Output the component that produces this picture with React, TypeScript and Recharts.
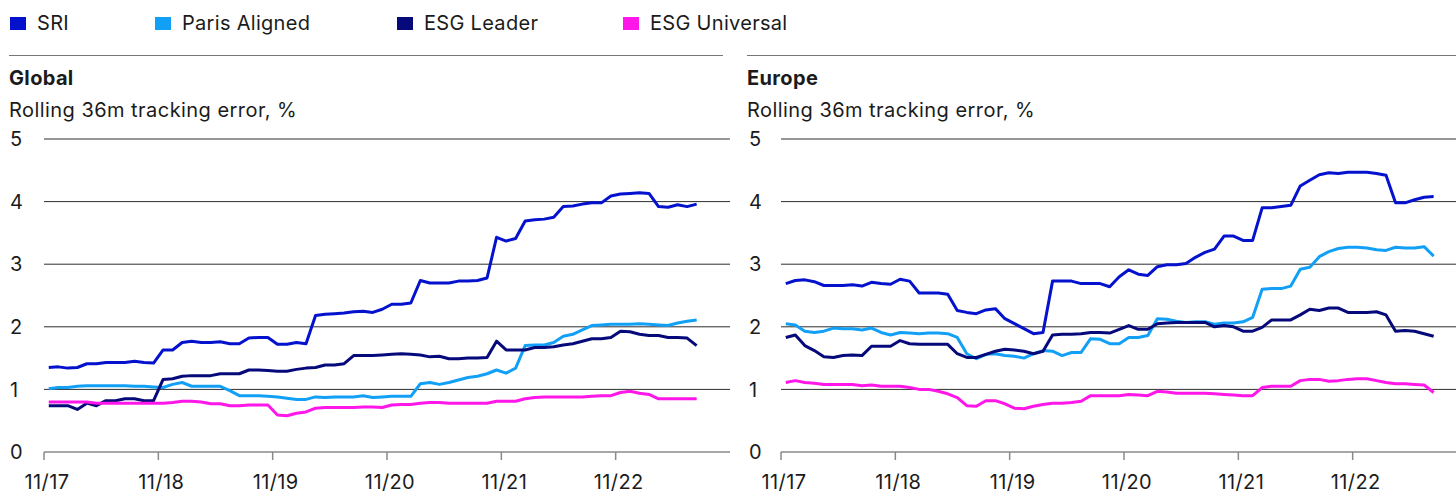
import React from 'react';
import { LineChart, Line, XAxis, YAxis, CartesianGrid } from 'recharts';

const tickLabels = ['11/17', '11/18', '11/19', '11/20', '11/21', '11/22'];
const tickMonths = [0, 12, 24, 36, 48, 60];
const yTicks = [0, 1, 2, 3, 4, 5];

const seriesNames = ['SRI', 'Paris Aligned', 'ESG Leader', 'ESG Universal'];
const seriesKeys = ['sri', 'paris', 'leader', 'universal'];
const seriesColors = ['#0412CE', '#12A0F7', '#06097A', '#FF16E8'];

const globalSRI = [
  1.35, 1.36, 1.34, 1.35, 1.41, 1.41, 1.43, 1.43, 1.43, 1.45, 1.43, 1.42,
  1.63, 1.63, 1.75, 1.77, 1.75, 1.75, 1.76, 1.73, 1.73, 1.82, 1.83, 1.83,
  1.72, 1.72, 1.75, 1.73, 2.18, 2.2, 2.21, 2.22, 2.24, 2.25, 2.23, 2.28,
  2.36, 2.36, 2.38, 2.74, 2.7, 2.7, 2.7, 2.73, 2.73, 2.74, 2.78, 3.43,
  3.37, 3.41, 3.69, 3.71, 3.72, 3.75, 3.92, 3.93, 3.96, 3.98, 3.98, 4.09,
  4.12, 4.13, 4.14, 4.13, 3.92, 3.91, 3.95, 3.92, 3.96,
];
const globalParis = [
  1.01, 1.03, 1.03, 1.05, 1.06, 1.06, 1.06, 1.06, 1.06, 1.05, 1.05, 1.04,
  1.03, 1.08, 1.11, 1.05, 1.05, 1.05, 1.05, 0.98, 0.9, 0.9, 0.9, 0.89,
  0.88, 0.86, 0.84, 0.84, 0.88, 0.87, 0.88, 0.88, 0.88, 0.9, 0.87, 0.88,
  0.89, 0.89, 0.89, 1.09, 1.11, 1.08, 1.11, 1.15, 1.19, 1.21, 1.25, 1.31,
  1.26, 1.34, 1.7, 1.71, 1.71, 1.75, 1.85, 1.88, 1.95, 2.02, 2.03, 2.04,
  2.04, 2.04, 2.05, 2.04, 2.03, 2.02, 2.06, 2.09, 2.11,
];
const globalLeader = [
  0.74, 0.74, 0.74, 0.68, 0.78, 0.74, 0.82, 0.82, 0.85, 0.85, 0.82, 0.82,
  1.16, 1.17, 1.21, 1.22, 1.22, 1.22, 1.25, 1.25, 1.25, 1.31, 1.31, 1.3,
  1.29, 1.29, 1.32, 1.34, 1.35, 1.39, 1.39, 1.41, 1.54, 1.54, 1.54, 1.55,
  1.56, 1.57, 1.56, 1.55, 1.52, 1.53, 1.49, 1.49, 1.5, 1.5, 1.51, 1.77,
  1.63, 1.63, 1.63, 1.67, 1.67, 1.68, 1.71, 1.73, 1.77, 1.81, 1.81, 1.83,
  1.93, 1.92, 1.88, 1.86, 1.86, 1.83, 1.83, 1.82, 1.7,
];
const globalUniversal = [
  0.8, 0.8, 0.8, 0.8, 0.8, 0.78, 0.78, 0.78, 0.78, 0.78, 0.78, 0.78,
  0.78, 0.79, 0.81, 0.81, 0.8, 0.77, 0.77, 0.74, 0.74, 0.75, 0.75, 0.75,
  0.59, 0.58, 0.62, 0.64, 0.7, 0.71, 0.71, 0.71, 0.71, 0.72, 0.72, 0.71,
  0.75, 0.76, 0.76, 0.78, 0.79, 0.79, 0.78, 0.78, 0.78, 0.78, 0.78, 0.81,
  0.81, 0.81, 0.85, 0.87, 0.88, 0.88, 0.88, 0.88, 0.88, 0.89, 0.9, 0.9,
  0.95, 0.97, 0.94, 0.92, 0.85, 0.85, 0.85, 0.85, 0.85,
];

const europeSRI = [
  2.69, 2.74, 2.75, 2.72, 2.66, 2.66, 2.66, 2.67, 2.65, 2.71, 2.69, 2.68,
  2.76, 2.73, 2.54, 2.54, 2.54, 2.52, 2.26, 2.23, 2.21, 2.27, 2.29, 2.13,
  2.05, 1.97, 1.89, 1.91, 2.73, 2.73, 2.73, 2.69, 2.69, 2.69, 2.64, 2.8,
  2.91, 2.84, 2.82, 2.96, 2.99, 2.99, 3.01, 3.11, 3.19, 3.24, 3.45, 3.45,
  3.38, 3.38, 3.9, 3.9, 3.92, 3.94, 4.25, 4.34, 4.43, 4.46, 4.45, 4.47,
  4.47, 4.47, 4.45, 4.42, 3.98, 3.98, 4.03, 4.07, 4.08,
];
const europeParis = [
  2.05, 2.03, 1.93, 1.91, 1.93, 1.98, 1.97, 1.97, 1.95, 1.98, 1.91, 1.87,
  1.91, 1.9, 1.89, 1.9, 1.9, 1.89, 1.83, 1.57, 1.49, 1.56, 1.57, 1.54,
  1.53, 1.5, 1.57, 1.62, 1.61, 1.54, 1.59, 1.59, 1.81, 1.8, 1.73, 1.73,
  1.83, 1.83, 1.86, 2.13, 2.12, 2.09, 2.07, 2.08, 2.08, 2.04, 2.06, 2.06,
  2.08, 2.15, 2.6, 2.61, 2.61, 2.65, 2.92, 2.95, 3.12, 3.2, 3.25, 3.27,
  3.27, 3.26, 3.23, 3.22, 3.27, 3.26, 3.26, 3.28, 3.13,
];
const europeLeader = [
  1.83, 1.87, 1.7, 1.62, 1.52, 1.51, 1.54, 1.55, 1.54, 1.69, 1.69, 1.69,
  1.78, 1.73, 1.72, 1.72, 1.72, 1.72, 1.57, 1.51, 1.51, 1.56, 1.61, 1.64,
  1.63, 1.61, 1.57, 1.61, 1.87, 1.88, 1.88, 1.89, 1.91, 1.91, 1.9, 1.96,
  2.02, 1.96, 1.96, 2.05, 2.06, 2.07, 2.07, 2.07, 2.07, 2.0, 2.02, 2.0,
  1.93, 1.93, 1.99, 2.11, 2.11, 2.11, 2.19, 2.28, 2.26, 2.3, 2.3, 2.23,
  2.23, 2.23, 2.24, 2.19, 1.93, 1.94, 1.93, 1.89, 1.85,
];
const europeUniversal = [
  1.11, 1.14, 1.11, 1.1, 1.08, 1.08, 1.08, 1.08, 1.06, 1.07, 1.05, 1.05,
  1.05, 1.03, 1.0, 1.0, 0.97, 0.93, 0.87, 0.74, 0.73, 0.82, 0.82, 0.77,
  0.7, 0.69, 0.73, 0.76, 0.78, 0.78, 0.79, 0.81, 0.9, 0.9, 0.9, 0.9,
  0.92, 0.91, 0.9, 0.97, 0.96, 0.94, 0.94, 0.94, 0.94, 0.93, 0.92, 0.91,
  0.9, 0.9, 1.03, 1.05, 1.05, 1.05, 1.14, 1.16, 1.16, 1.13, 1.14, 1.16,
  1.17, 1.17, 1.14, 1.11, 1.09, 1.09, 1.08, 1.07, 0.95,
];

const FONT = 'Inter, "Noto Sans", sans-serif';
const TEXT = '#1b1b1b';

function buildTable(sri: number[], paris: number[], leader: number[], universal: number[]) {
  return sri.map((v, i) => ({
    m: i + 0.5,
    sri: v,
    paris: paris[i],
    leader: leader[i],
    universal: universal[i],
  }));
}

const globalData = buildTable(globalSRI, globalParis, globalLeader, globalUniversal);
const europeData = buildTable(europeSRI, europeParis, europeLeader, europeUniversal);

function makeYTick(labelX: number) {
  return (props: any) => {
    const { y, payload } = props;
    return (
      <text x={labelX} y={y} dy="0.36em" textAnchor="start" fontSize={20} fontFamily={FONT} fill={TEXT}>
        {payload.value}
      </text>
    );
  };
}

const XTick = (props: any) => {
  const { x, payload } = props;
  const idx = tickMonths.indexOf(payload.value);
  return (
    <text x={x + 3} y={489} textAnchor="middle" fontSize={20} letterSpacing={0.4} fontFamily={FONT} fill={TEXT}>
      {idx >= 0 ? tickLabels[idx] : ''}
    </text>
  );
};

function Panel({ data, width, marginLeft, labelX }: { data: any[]; width: number; marginLeft: number; labelX: number }) {
  return (
    <LineChart
      width={width}
      height={494}
      data={data}
      margin={{ top: 139, right: 6, bottom: 12, left: marginLeft }}
    >
      <CartesianGrid vertical={false} horizontalValues={[1, 2, 3, 4, 5]} stroke="#2e2e2e" strokeWidth={1} />
      <XAxis
        dataKey="m"
        type="number"
        domain={[0, 72]}
        ticks={tickMonths}
        interval={0}
        height={30}
        axisLine={{ stroke: '#8a8a8a', strokeWidth: 1.5 }}
        tickLine={{ stroke: '#8a8a8a', strokeWidth: 1.5 }}
        tickSize={8}
        tick={<XTick />}
      />
      <YAxis
        type="number"
        domain={[0, 5]}
        ticks={yTicks}
        interval={0}
        width={34}
        axisLine={false}
        tickLine={false}
        tick={makeYTick(labelX)}
      />
      {seriesKeys.map((k, i) => (
        <Line
          key={k}
          type="linear"
          dataKey={k}
          stroke={seriesColors[i]}
          strokeWidth={3}
          dot={false}
          strokeLinejoin="round"
          isAnimationActive={false}
        />
      ))}
    </LineChart>
  );
}

const textStyle = { fontSize: 20, lineHeight: '24px', letterSpacing: 0.35, whiteSpace: 'nowrap' as const };

export default function App() {
  const legendX = [10, 155, 397, 623];
  return (
    <div
      style={{
        position: 'absolute',
        left: 0,
        top: 0,
        width: 1456,
        height: 494,
        overflow: 'hidden',
        background: '#fff',
        fontFamily: FONT,
        color: TEXT,
      }}
    >
      {seriesNames.map((n, i) => (
        <div key={n} style={{ position: 'absolute', left: legendX[i], top: 11, height: 24, display: 'flex', alignItems: 'center' }}>
          <div style={{ width: 16, height: 13, background: seriesColors[i], marginRight: 11, marginTop: 0 }} />
          <span style={{ ...textStyle, letterSpacing: 0.3 }}>{n}</span>
        </div>
      ))}
      <div style={{ position: 'absolute', left: 9, top: 55, width: 714, height: 0, borderTop: '1.5px solid #777' }} />
      <div style={{ position: 'absolute', left: 747, top: 55, width: 720, height: 0, borderTop: '1.5px solid #777' }} />

      <div style={{ position: 'absolute', left: 9, top: 66, ...textStyle, fontWeight: 700 }}>Global</div>
      <div style={{ position: 'absolute', left: 9, top: 98, ...textStyle, letterSpacing: 0.45 }}>
        Rolling 36m tracking error, %
      </div>
      <div style={{ position: 'absolute', left: 747, top: 66, ...textStyle, fontWeight: 700 }}>Europe</div>
      <div style={{ position: 'absolute', left: 747, top: 98, ...textStyle, letterSpacing: 0.45 }}>
        Rolling 36m tracking error, %
      </div>

      <div style={{ position: 'absolute', left: 0, top: 0 }}>
        <Panel data={globalData} width={736} marginLeft={10} labelX={10} />
      </div>
      <div style={{ position: 'absolute', left: 740, top: 0 }}>
        <Panel data={europeData} width={733} marginLeft={7} labelX={9} />
      </div>
    </div>
  );
}
